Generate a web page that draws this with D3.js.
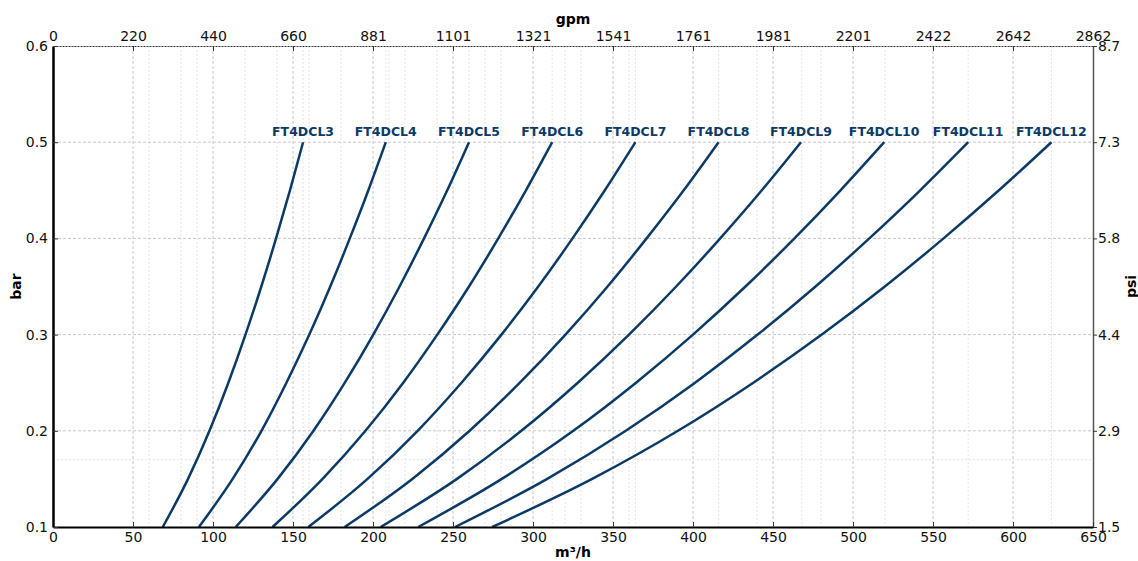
<!DOCTYPE html>
<html>
<head>
<meta charset="utf-8">
<script src="https://cdn.jsdelivr.net/npm/d3@7"></script>
<style>
  body { margin: 0; background: #fff; }
  text { font-family: "DejaVu Sans", sans-serif; }
</style>
</head>
<body>
<svg id="chart" width="1138" height="561"></svg>
<script>
// Data
var names = ["FT4DCL3", "FT4DCL4", "FT4DCL5", "FT4DCL6", "FT4DCL7",
             "FT4DCL8", "FT4DCL9", "FT4DCL10", "FT4DCL11", "FT4DCL12"];
var pressures = [0.1, 0.15, 0.2, 0.25, 0.3, 0.35, 0.4, 0.45, 0.5]; // bar
// flow (m3/h) of each curve at the pressures above
var flows = [
  [68.6, 84.4, 97.8, 109.6, 120.3, 130.2, 139.4, 148.1, 156.3],
  [91.2, 112.3, 130.3, 145.9, 160.2, 173.3, 185.5, 197.1, 208.0],
  [114.2, 140.4, 162.8, 182.4, 200.2, 216.6, 231.9, 246.4, 260.0],
  [137.2, 168.5, 195.3, 218.9, 240.2, 260.0, 278.3, 295.6, 312.0],
  [159.6, 196.6, 227.9, 255.3, 280.3, 303.3, 324.7, 344.9, 364.0],
  [182.3, 224.6, 260.4, 291.8, 320.3, 346.6, 371.0, 394.2, 416.0],
  [204.8, 252.5, 292.7, 328.0, 360.0, 389.5, 417.0, 443.0, 467.5],
  [228.3, 280.5, 325.2, 364.4, 400.0, 432.8, 463.4, 492.2, 519.5],
  [251.3, 308.9, 358.0, 401.3, 440.4, 476.6, 510.2, 542.0, 572.0],
  [274.5, 337.0, 390.6, 437.7, 480.5, 519.9, 556.6, 591.2, 624.0]
];
var xTicks = [0, 50, 100, 150, 200, 250, 300, 350, 400, 450, 500, 550, 600, 650];
var gpmLabels = ["0", "220", "440", "660", "881", "1101", "1321", "1541", "1761",
                 "1981", "2201", "2422", "2642", "2862"];
var yTicks = [0.1, 0.2, 0.3, 0.4, 0.5, 0.6];
var psiLabels = ["1.5", "2.9", "4.4", "5.8", "7.3", "8.7"];
var xMinor = [60, 80, 90, 120, 140, 156.3, 160, 180, 208, 210, 220, 240, 260, 270, 280,
              312, 320, 330, 360, 364, 416, 440, 468, 480, 520, 572, 624];
var yMinor = [0.17];

// Layout
var svg = d3.select("#chart");
var plotL = 53, plotR = 1093, plotT = 46, plotB = 527;
var lineColor = "#0c3a66";

var x = d3.scaleLinear().domain([0, 650]).range([plotL, plotR]);
var y = d3.scaleLinear().domain([0.1, 0.6]).range([plotB, plotT]);

/* ******** Grid ******** */
var grid = svg.append("g");
grid.selectAll(".xminor").data(xMinor).enter().append("line")
  .attr("x1", function (d) { return x(d); }).attr("x2", function (d) { return x(d); })
  .attr("y1", plotT).attr("y2", plotB)
  .attr("stroke", "#e4e4e4").attr("stroke-width", 1).attr("stroke-dasharray", "2,2");
grid.selectAll(".yminor").data(yMinor).enter().append("line")
  .attr("x1", plotL).attr("x2", plotR)
  .attr("y1", function (d) { return y(d); }).attr("y2", function (d) { return y(d); })
  .attr("stroke", "#e4e4e4").attr("stroke-width", 1).attr("stroke-dasharray", "2,2");
grid.selectAll(".xmajor").data(xTicks.slice(1, -1)).enter().append("line")
  .attr("x1", function (d) { return x(d); }).attr("x2", function (d) { return x(d); })
  .attr("y1", plotT).attr("y2", plotB)
  .attr("stroke", "#c8c8c8").attr("stroke-width", 1).attr("stroke-dasharray", "3,2");
grid.selectAll(".ymajor").data(yTicks.slice(1, -1)).enter().append("line")
  .attr("x1", plotL).attr("x2", plotR)
  .attr("y1", function (d) { return y(d); }).attr("y2", function (d) { return y(d); })
  .attr("stroke", "#c8c8c8").attr("stroke-width", 1).attr("stroke-dasharray", "3,2");

/* ******** Curves ******** */
var line = d3.line()
  .x(function (d) { return x(d[0]); })
  .y(function (d) { return y(d[1]); })
  .curve(d3.curveMonotoneX);

var curves = svg.append("g");
flows.forEach(function (row, i) {
  var pts = row.map(function (q, j) { return [q, pressures[j]]; });
  curves.append("path").datum(pts)
    .attr("d", line)
    .attr("fill", "none")
    .attr("stroke", lineColor)
    .attr("stroke-width", 2.5);
  curves.append("text")
    .attr("x", x(row[row.length - 1]))
    .attr("y", y(0.5) - 6)
    .attr("text-anchor", "middle")
    .attr("font-size", 12.5)
    .attr("font-weight", "bold")
    .attr("fill", lineColor)
    .text(names[i]);
});

/* ******** Axes ******** */
var axBottom = d3.axisBottom(x).tickValues(xTicks).tickSizeInner(-5).tickSizeOuter(0).tickPadding(5);
var axTop = d3.axisTop(x).tickValues(xTicks).tickSizeInner(-5).tickSizeOuter(0).tickPadding(5)
  .tickFormat(function (d, i) { return gpmLabels[i]; });
var axLeft = d3.axisLeft(y).tickValues(yTicks).tickSizeInner(-5).tickSizeOuter(0).tickPadding(5)
  .tickFormat(d3.format(".1f"));
var axRight = d3.axisRight(y).tickValues(yTicks).tickSizeInner(4).tickSizeOuter(0).tickPadding(1)
  .tickFormat(function (d, i) { return psiLabels[i]; });

function styleAxis(g, spineColor, spineWidth, dash) {
  g.selectAll("text").attr("font-size", 14).attr("fill", "#111")
    .style("font-family", "'DejaVu Sans', sans-serif");
  g.selectAll(".tick line").attr("stroke", "#333").attr("stroke-width", 1);
  g.select(".domain").attr("stroke", spineColor).attr("stroke-width", spineWidth)
    .attr("stroke-dasharray", dash);
}

svg.append("g").attr("transform", "translate(0," + plotT + ")").call(axTop)
  .call(styleAxis, "#333", 1.2, "2,1");
svg.append("g").attr("transform", "translate(" + plotR + ",0)").call(axRight)
  .call(styleAxis, "#555", 1.5, null);
svg.append("g").attr("transform", "translate(0," + plotB + ")").call(axBottom)
  .call(styleAxis, "#000", 2.2, null);
svg.append("g").attr("transform", "translate(" + plotL + ",0)").call(axLeft)
  .call(styleAxis, "#000", 2.5, null);

/* ******** Titles ******** */
svg.append("text").attr("x", (plotL + plotR) / 2).attr("y", 24)
  .attr("text-anchor", "middle").attr("font-size", 14).attr("font-weight", "bold").text("gpm");
svg.append("text").attr("x", (plotL + plotR) / 2).attr("y", 557)
  .attr("text-anchor", "middle").attr("font-size", 14).attr("font-weight", "bold").text("m³/h");
svg.append("text").attr("transform", "translate(21," + (plotT + plotB) / 2 + ") rotate(-90)")
  .attr("text-anchor", "middle").attr("font-size", 14).attr("font-weight", "bold").text("bar");
svg.append("text").attr("transform", "translate(1136," + (plotT + plotB) / 2 + ") rotate(-90)")
  .attr("text-anchor", "middle").attr("font-size", 14).attr("font-weight", "bold").text("psi");
</script>
</body>
</html>
